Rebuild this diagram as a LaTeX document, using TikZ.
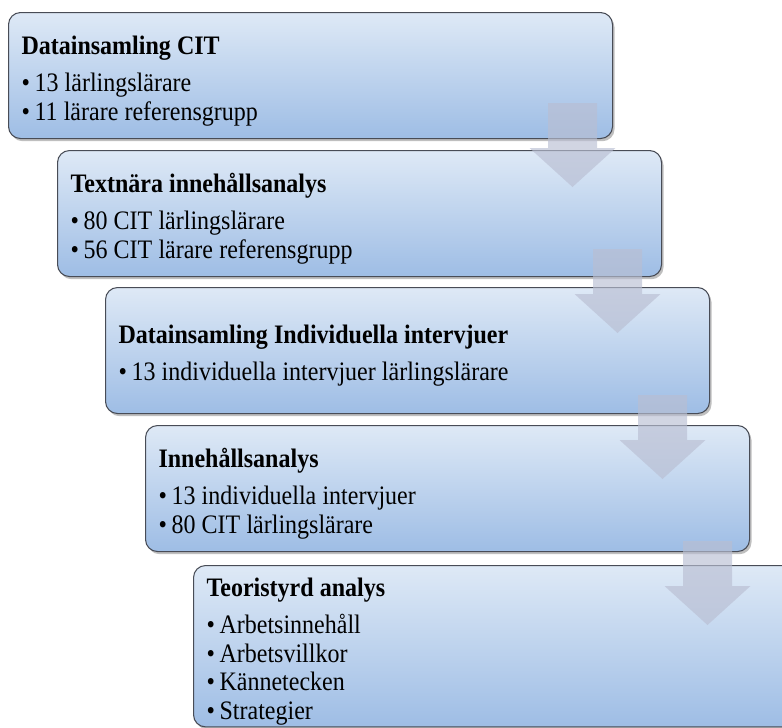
\documentclass[tikz,border=0pt]{standalone}
\usepackage{fontspec}
\setmainfont{Liberation Serif}[FakeStretch=0.9]
\usetikzlibrary{shadows,positioning}
\definecolor{boxtop}{RGB}{222,233,246}
\definecolor{boxbottom}{RGB}{158,189,229}
\definecolor{boxline}{RGB}{72,76,86}
\definecolor{arrowgray}{RGB}{185,190,210}
\newcommand\stephead[1]{\spaceskip=4.6pt\relax\rule{0pt}{22pt}{\bfseries #1}\\[6.5pt]}
\newcommand\itembul{\textbullet\hspace{3.5pt}}

\begin{document}
\begin{tikzpicture}[x=0.75pt,y=-0.75pt,
	stepbox/.style={draw=boxline, line width=0.8pt, rounded corners=9pt, top color=boxtop, bottom color=boxbottom,
		minimum width=453pt, minimum height=94.5pt, text width=433.5pt, inner xsep=9.75pt, inner ysep=0pt,
		align=left, anchor=north west, font=\fontsize{20}{21.5}\selectfont,
		drop shadow={shadow xshift=1.5pt, shadow yshift=-2pt, fill=black, opacity=0.25}},
	flowarrow/.style={fill=arrowgray, opacity=0.65}]
\useasboundingbox (0,0) rectangle (782,728);
\clip (0,0) rectangle (782,728);

% the five steps
\node[stepbox] (collect) at (8,12) {
	\stephead{Datainsamling CIT}
	\itembul 13 lärlingslärare\\
	\itembul 11 lärare referensgrupp
};
\node[stepbox] (textnear) at (57,150) {
	\stephead{Textnära innehållsanalys}
	\itembul 80 CIT lärlingslärare\\
	\itembul 56 CIT lärare referensgrupp
};
\node[stepbox] (interview) at (105,287) {
	\stephead{Datainsamling Individuella intervjuer}
	\itembul 13 individuella intervjuer lärlingslärare
};
\node[stepbox] (content) at (145,425) {
	\stephead{Innehållsanalys}
	\itembul 13 individuella intervjuer\\
	\itembul 80 CIT lärlingslärare
};
\node[stepbox, minimum height=121pt] (theory) at (193,565) {
	\stephead{Teoristyrd analys}
	\itembul Arbetsinnehåll\\
	\itembul Arbetsvillkor\\
	\itembul Kännetecken\\
	\itembul Strategier
};

% block arrows between the steps
\foreach \i in {0,...,3} {
	\pgfmathsetmacro\cx{572.5+45*\i}
	\pgfmathsetmacro\ty{103+146*\i}
	\fill[flowarrow] (\cx-24.5,\ty) -- (\cx+24.5,\ty) -- (\cx+24.5,\ty+45) -- (\cx+43,\ty+45)
		-- (\cx,\ty+84) -- (\cx-43,\ty+45) -- (\cx-24.5,\ty+45) -- cycle;
}
\end{tikzpicture}
\end{document}
